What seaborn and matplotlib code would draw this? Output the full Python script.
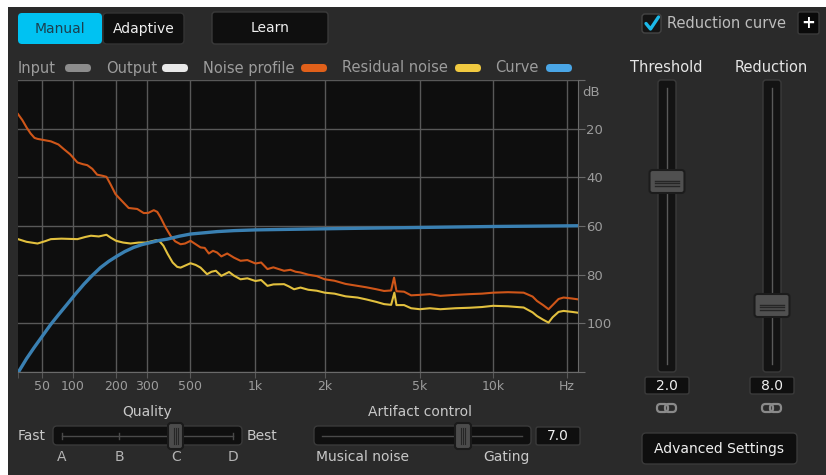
"""Noise reduction plugin panel: spectrum view with UI controls."""

import matplotlib
matplotlib.use("Agg")
import matplotlib.pyplot as plt
import matplotlib.transforms as mtrans
from matplotlib.patches import FancyBboxPatch
import numpy as np
import pandas as pd
import seaborn as sns


# ---- spectrum data (frequency in Hz, level in dB below 0)
noise_freq = [20, 25, 30, 35, 40, 44, 55, 63, 75, 84, 95, 109, 120, 129, 140, 151, 165, 174, 185,
              198, 215, 237, 265, 288, 305, 326, 340, 354, 375, 398, 420, 447, 470, 500, 530, 559,
              585, 612, 640, 669, 700, 745, 800, 857, 920, 1000, 1060, 1130, 1200, 1336, 1424,
              1500, 1575, 1700, 1850, 2000, 2200, 2450, 2751, 3000, 3300, 3552, 3800, 3909, 4000,
              4300, 4600, 5000, 5500, 6070, 7000, 8000, 9000, 10000, 11500, 13330, 14500, 15110,
              16000, 16840, 17500, 18500, 19390, 21000, 22050]
noise_db = [14.0, 16.5, 19.5, 22.0, 23.8, 24.2, 24.8, 25.2, 26.5, 28.4, 30.5, 33.9, 34.6, 35.0,
            36.5, 38.9, 39.4, 39.8, 43.0, 46.9, 49.5, 52.6, 53.0, 54.7, 54.6, 53.5, 54.2, 56.5,
            60.5, 64.0, 66.3, 67.5, 67.2, 66.1, 67.5, 68.8, 69.0, 71.3, 70.2, 70.9, 72.5, 71.3,
            73.0, 74.3, 74.0, 75.4, 75.0, 77.7, 77.0, 78.4, 78.0, 78.8, 79.1, 80.0, 80.6, 81.9,
            82.5, 83.8, 84.6, 85.2, 86.0, 86.7, 86.5, 81.2, 86.8, 87.0, 88.5, 88.3, 88.0, 88.7,
            88.3, 88.0, 87.8, 87.4, 87.2, 87.4, 89.0, 90.8, 92.5, 94.2, 92.5, 90.0, 89.4, 89.8,
            90.1]

resid_freq = [20, 30, 44, 55, 63, 80, 109, 125, 137, 155, 174, 185, 200, 220, 243, 270, 297, 320,
              337, 350, 366, 385, 408, 430, 447, 470, 500, 530, 559, 580, 600, 630, 660, 700, 760,
              800, 857, 920, 1000, 1060, 1130, 1200, 1336, 1400, 1477, 1575, 1700, 1850, 2000,
              2200, 2450, 2751, 3000, 3300, 3552, 3800, 3920, 4000, 4300, 4600, 5000, 5500, 6070,
              7000, 8000, 9000, 10000, 11500, 13330, 14500, 15110, 16000, 16840, 17500, 18500,
              19390, 21000, 22050]
resid_db = [65.4, 66.5, 67.2, 66.2, 65.4, 65.2, 65.4, 64.5, 64.0, 64.3, 63.6, 64.8, 66.1, 66.8,
            67.2, 66.8, 66.8, 66.2, 65.8, 66.3, 68.1, 71.5, 75.0, 76.8, 77.1, 76.3, 75.3, 76.0,
            77.1, 78.5, 79.8, 78.8, 78.4, 80.5, 78.9, 80.4, 81.9, 81.5, 82.6, 82.2, 84.6, 84.0,
            83.9, 84.8, 86.0, 85.3, 86.2, 86.6, 87.4, 87.8, 88.9, 89.4, 90.2, 91.2, 92.1, 92.4,
            87.4, 92.5, 92.5, 93.8, 94.2, 93.8, 94.2, 93.8, 93.6, 93.3, 92.8, 93.0, 93.5, 95.5,
            97.0, 98.5, 99.7, 97.5, 95.3, 94.9, 95.3, 95.6]

curve_freq = [20, 30, 39.4, 50, 63, 75, 90, 105, 122, 140, 159, 180, 203, 225, 253, 280, 313, 345,
              383, 440, 500, 580, 669, 800, 1000, 1575, 2500, 5000, 10000, 22050]
curve_db = [120.3, 114.5, 110.0, 105.5, 100.4, 96.5, 92.1, 88.0, 83.9, 80.3, 77.1, 74.5, 72.3,
            70.5, 68.8, 67.7, 66.8, 66.0, 65.4, 64.2, 63.3, 62.8, 62.3, 61.9, 61.6, 61.3, 61.0,
            60.6, 60.2, 59.9]

freq_ticks = [50, 100, 200, 300, 500, 1000, 2000, 5000, 10000, 20000]
freq_labels = ["50", "100", "200", "300", "500", "1k", "2k", "5k", "10k", "Hz"]
db_ticks = [0, 20, 40, 60, 80, 100, 120]
db_labels = ["", "20", "40", "60", "80", "100", ""]

legend_names = ["Input", "Output", "Noise profile", "Residual noise", "Curve"]
legend_colors = ["#8c8c8c", "#e8e8e8", "#e0601a", "#f0c940", "#4aa6e6"]

BG = "#2a2a2a"
PLOT_BG = "#0e0e0e"
DARK = "#0f0f0f"
EDGE = "#3a3a3a"
GRID = "#585858"
LABEL = "#9c9c9c"

W, H = 826, 475
fig = plt.figure(figsize=(W / 100, H / 100), dpi=100, facecolor="white")

# ---- UI layer in pixel coordinates
ui = fig.add_axes([0, 0, 1, 1])
ui.set_xlim(0, W); ui.set_ylim(H, 0); ui.axis("off")


def box(x, y, w, h, fc, ec="none", r=3, lw=1.0, z=2):
    ui.add_patch(FancyBboxPatch((x, y), w, h, boxstyle=f"round,pad=0,rounding_size={r}",
                                fc=fc, ec=ec, lw=lw, zorder=z))


def label(x, y, s, color="#c8c8c8", size=10, ha="left", **kw):
    ui.text(x, y, s, color=color, fontsize=size, ha=ha, va="center", zorder=5, **kw)


ui.add_patch(plt.Rectangle((8, 7), W - 8, H - 7, fc=BG, ec="none", zorder=0))

# top buttons
box(18, 13, 84, 31, "#00c2f2", r=4)
label(60, 29, "Manual", color="#1b3f4f", ha="center")
box(103, 13, 81, 31, DARK, "#333333", r=4)
label(143.5, 29, "Adaptive", color="#f0f0f0", ha="center")
box(212, 12, 116, 32, DARK, EDGE, r=3)
label(270, 28, "Learn", color="#f0f0f0", ha="center")

# reduction curve checkbox and plus button
box(642, 14, 19, 19, "#141414", "#444444", r=3)
ui.plot([646, 650.5, 658.5], [23.5, 29, 17], color="#1cb8e8", lw=2.4, solid_capstyle="round", zorder=6)
label(667, 23, "Reduction curve", color="#bdbdbd", size=10.5)
box(798, 12, 21, 22, "#0a0a0a", EDGE, r=2)
label(808.5, 23, "+", color="#ffffff", size=12, ha="center", fontweight="bold")

# legend row
legend_x = [18, 106, 203, 342, 495]
pill_x = [65, 162, 301, 455, 546]
for name, color, tx, px in zip(legend_names, legend_colors, legend_x, pill_x):
    label(tx, 68, name, color=LABEL, size=10.5)
    box(px, 64, 26, 8, color, r=4)

# vertical sliders
for cx, title, hy, val in [(667, "Threshold", 170, "2.0"), (772, "Reduction", 294, "8.0")]:
    label(cx - 1, 68, title, color="#e6e6e6", size=10.5, ha="center")
    box(cx - 9, 80, 18, 292, "#131313", EDGE, r=3)
    ui.plot([cx, cx], [88, 364], color="#5a5a5a", lw=1, zorder=3)
    box(cx - 17.5, hy, 35, 23, "#505050", "#1c1c1c", r=3, lw=1.5, z=4)
    for dy in (10.5, 13, 15.5):
        ui.plot([cx - 12, cx + 12], [hy + dy, hy + dy], color="#262626", lw=1, zorder=5)
    box(cx - 22, 377, 44, 17, DARK, EDGE, r=2)
    label(cx - 0.5, 386, val, color="#f0f0f0", ha="center")
    box(cx - 10, 404, 11, 8, "none", "#8a8a8a", r=3.5, lw=1.6)
    box(cx - 2, 404, 11, 8, "none", "#8a8a8a", r=3.5, lw=1.6)

box(642, 433, 155, 31, DARK, EDGE, r=4)
label(719.5, 448.5, "Advanced Settings", color="#f0f0f0", ha="center")

# quality slider
label(147, 412, "Quality", ha="center")
label(18, 436, "Fast")
label(247, 436, "Best")
box(53, 426, 189, 19, DARK, EDGE, r=4)
ui.plot([62, 233], [436, 436], color="#4a4a4a", lw=1, zorder=3)
for tx, letter in zip([62, 119, 176, 233], "ABCD"):
    ui.plot([tx, tx], [433, 439], color="#4a4a4a", lw=1, zorder=3)
    label(tx, 457, letter, color="#b4b4b4", ha="center")
box(168, 423, 15, 26, "#4c4c4c", "#1a1a1a", r=3, lw=1.5, z=4)
for dx in (173.5, 175.5, 177.5):
    ui.plot([dx, dx], [428, 444], color="#262626", lw=0.8, zorder=5)

# artifact control slider
label(420, 412, "Artifact control", ha="center")
box(314, 426, 217, 19, DARK, EDGE, r=4)
ui.plot([322, 522], [436, 436], color="#4a4a4a", lw=1, zorder=3)
box(455, 423, 16, 26, "#4c4c4c", "#1a1a1a", r=3, lw=1.5, z=4)
for dx in (460.5, 462.5, 464.5):
    ui.plot([dx, dx], [428, 444], color="#262626", lw=0.8, zorder=5)
box(536, 427, 44, 18, DARK, EDGE, r=2)
label(558, 436.5, "7.0", color="#f0f0f0", ha="center")
label(316, 457, "Musical noise")
label(483, 457, "Gating")

# ---- spectrum axes
left, right, top, bottom = 18, 578, 80, 372
ax = fig.add_axes([left / W, (H - bottom) / H, (right - left) / W, (bottom - top) / H])
ax.set_facecolor(PLOT_BG)

noise = pd.DataFrame({"freq": noise_freq, "db": noise_db})
resid = pd.DataFrame({"freq": resid_freq, "db": resid_db})
curve = pd.DataFrame({"freq": curve_freq, "db": curve_db})
sns.lineplot(data=noise, x="freq", y="db", color="#cf5619", lw=1.5, ax=ax, zorder=3)
sns.lineplot(data=resid, x="freq", y="db", color="#e2c03e", lw=1.5, ax=ax, zorder=3)
sns.lineplot(data=curve, x="freq", y="db", color="#3a80b2", lw=2.4, ax=ax, zorder=4)

ax.set_xscale("function", functions=(lambda f: np.log10(np.asarray(f) + 100.0),
                                     lambda v: 10 ** np.asarray(v) - 100.0))
ax.set_xlim(20, 22200)
ax.set_ylim(120, 0)
ax.set_xticks(freq_ticks, freq_labels)
ax.set_xticks([20], minor=True)
ax.yaxis.tick_right()
ax.set_yticks(db_ticks, db_labels)
ax.set_xlabel(""); ax.set_ylabel("")
ax.grid(True, color=GRID, lw=1)
ax.tick_params(axis="x", which="both", colors=GRID, labelcolor=LABEL, labelsize=9, length=4, pad=2)
ax.tick_params(axis="y", colors="#6a6a6a", labelcolor=LABEL, labelsize=9.5, length=5, pad=1)
for side in ("left", "top"):
    ax.spines[side].set_visible(False)
for side in ("right", "bottom"):
    ax.spines[side].set_color("#6a6a6a")
ax.text(1.008, 5, "dB", color=LABEL, fontsize=9.5, ha="left", va="center",
        transform=mtrans.blended_transform_factory(ax.transAxes, ax.transData))

fig.savefig("out.png", dpi=100, facecolor=fig.get_facecolor())
